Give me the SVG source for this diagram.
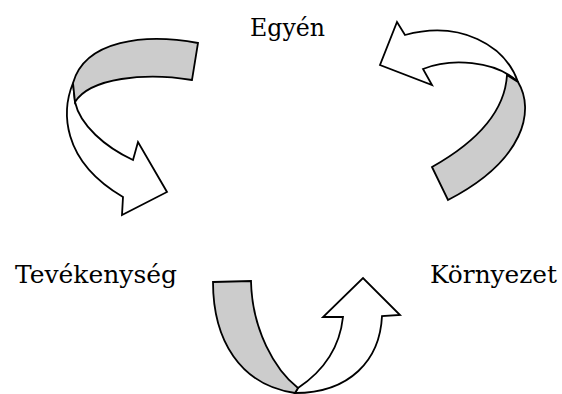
<svg xmlns="http://www.w3.org/2000/svg" width="562" height="394" viewBox="0 0 562 394">
<style>
.lbl{font-family:"DejaVu Serif","Liberation Serif",serif;font-size:24px;fill:#000}
.w{fill:#fff;stroke:#000;stroke-width:1.8;stroke-linejoin:miter}
.g{fill:#cccccc;stroke:#000;stroke-width:1.8;stroke-linejoin:miter}
</style>
<rect width="562" height="394" fill="#fff"/>
<g id="egyen"><text class="lbl" x="250" y="36" textLength="75" lengthAdjust="spacingAndGlyphs">Egyén</text></g>
<g id="tevekenyseg"><text class="lbl" x="15" y="283" textLength="162" lengthAdjust="spacingAndGlyphs">Tevékenység</text></g>
<g id="kornyezet"><text class="lbl" x="430" y="283" textLength="127" lengthAdjust="spacingAndGlyphs">Környezet</text></g>
<g id="connectors">
  <g id="arrow-egyen-tevekenyseg">
    <path class="w" d="M73,83 C62,110 60,160 123,197 L122,215 L167,192 L138,142 L133,160 C105,147 80,125 75,102 Z"/>
    <path class="g" d="M198,43 C145,33 85,40 73,83 L75,102 C90,78 145,72 192,80 Z"/>
  </g>
  <g id="arrow-kornyezet-egyen">
    <path class="w" d="M518,82 C505,45 460,20 405,35 L397,22 L380,65 L432,85 L423,69 C450,58 495,60 518,82 Z"/>
    <path class="g" d="M507,75 L518,82 C535,110 525,160 448,200 L432,167 C480,140 505,110 507,75 Z"/>
  </g>
  <g id="arrow-tevekenyseg-kornyezet">
    <path class="w" d="M298,388 C325,370 340,345 343,317 L323,317 L363,278 L400,315 L382,316 C380,360 350,393 295,393 Z"/>
    <path class="g" d="M213,282 L251,281 C252,330 275,370 298,388 L295,393 C240,385 213,340 213,282 Z"/>
  </g>
</g>
</svg>
